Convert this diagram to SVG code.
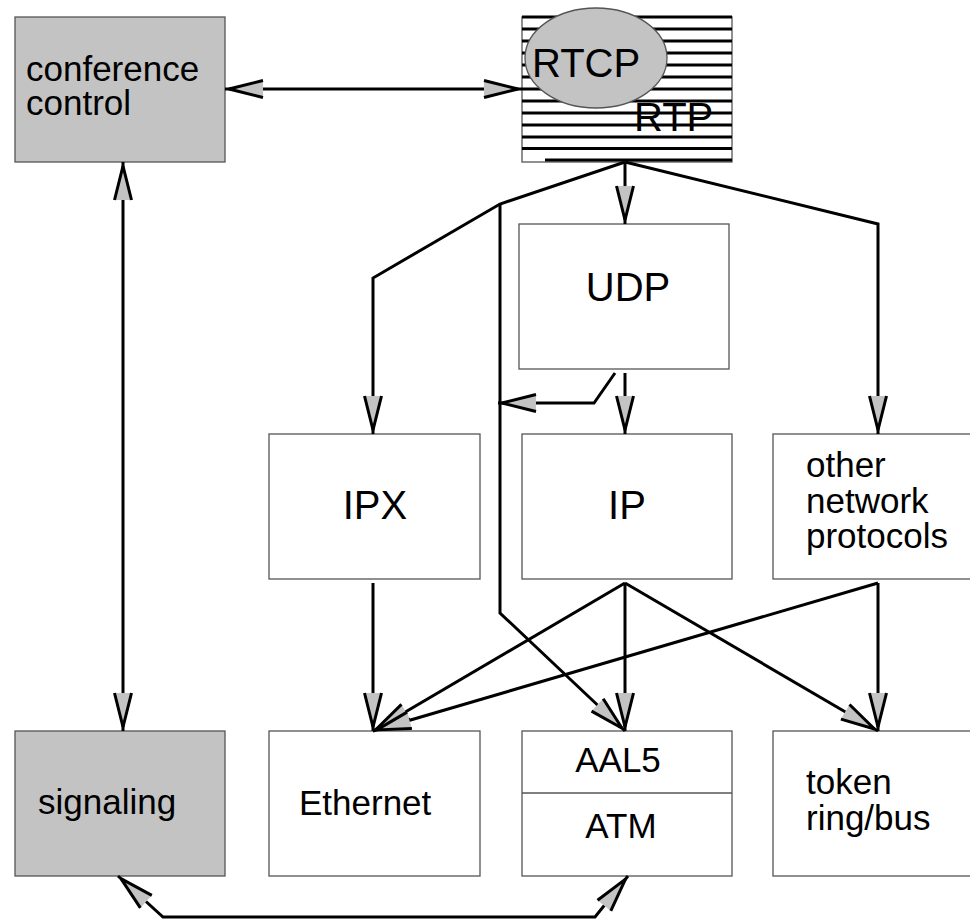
<svg xmlns="http://www.w3.org/2000/svg" width="970" height="919" viewBox="0 0 970 919">
  <style>
    .box { fill: #ffffff; stroke: #555555; stroke-width: 1.3; }
    .shaded { fill: #c3c3c3; stroke: #555555; stroke-width: 1.3; }
    .lbl { font-family: "Liberation Sans", Arial, Helvetica, sans-serif; font-size: 35px; fill: #000000; }
    .big { font-family: "Liberation Sans", Arial, Helvetica, sans-serif; font-size: 40px; fill: #000000; }
    .mid { text-anchor: middle; }
    .stripe { stroke: #000000; stroke-width: 3; }
    .conn path { fill: none; stroke: #000000; stroke-width: 3; stroke-linejoin: miter; }
    .one { marker-end: url(#ah); }
    .two { marker-start: url(#ah); marker-end: url(#ah); }
  </style>
  <defs>
    <!-- open-sided arrowhead: grey body, black flanks -->
    <marker id="ah" markerUnits="userSpaceOnUse" viewBox="-2 -2 44 22" markerWidth="44" markerHeight="22" refX="38" refY="9" orient="auto-start-reverse" overflow="visible">
      <path d="M0,0.5 L34,9 L0,17.5 Z" fill="#c3c3c3" stroke="none"/>
      <path d="M0,0.5 L34,9 L0,17.5" fill="none" stroke="#000000" stroke-width="3"/>
    </marker>
  </defs>

  <rect width="970" height="919" fill="#ffffff"/>

  <g id="conference-control">
    <rect class="shaded" x="15" y="17" width="210" height="145"/>
    <text class="lbl" x="26" y="81">conference</text>
    <text class="lbl" x="26" y="115">control</text>
  </g>

  <g id="rtp">
    <rect class="box" x="522" y="17" width="210" height="145"/>
    <g class="stripes">
      <line class="stripe" x1="522" y1="17" x2="732" y2="17"/>
      <line class="stripe" x1="522" y1="29" x2="732" y2="29"/>
      <line class="stripe" x1="522" y1="41" x2="732" y2="41"/>
      <line class="stripe" x1="522" y1="53" x2="732" y2="53"/>
      <line class="stripe" x1="522" y1="65" x2="732" y2="65"/>
      <line class="stripe" x1="522" y1="77" x2="732" y2="77"/>
      <line class="stripe" x1="522" y1="89" x2="732" y2="89"/>
      <line class="stripe" x1="522" y1="101" x2="732" y2="101"/>
      <line class="stripe" x1="522" y1="113" x2="732" y2="113"/>
      <line class="stripe" x1="522" y1="125" x2="732" y2="125"/>
      <line class="stripe" x1="522" y1="137" x2="732" y2="137"/>
      <line class="stripe" x1="522" y1="148.5" x2="732" y2="148.5"/>
      <line class="stripe" x1="545" y1="160" x2="732" y2="160"/>
    </g>
    <text class="big" x="634" y="131">RTP</text>
  </g>

  <g id="rtcp">
    <ellipse cx="596" cy="58" rx="71" ry="50" fill="#c3c3c3" stroke="#555555" stroke-width="1.3"/>
    <text class="big" x="532" y="77">RTCP</text>
  </g>

  <g id="udp">
    <rect class="box" x="519" y="224" width="210" height="145"/>
    <text class="big mid" x="628" y="301">UDP</text>
  </g>

  <g id="ipx">
    <rect class="box" x="269" y="434" width="211" height="145"/>
    <text class="big mid" x="375" y="519">IPX</text>
  </g>

  <g id="ip">
    <rect class="box" x="522" y="434" width="210" height="145"/>
    <text class="big mid" x="627" y="519">IP</text>
  </g>

  <g id="other-network-protocols">
    <rect class="box" x="773" y="434" width="210" height="145"/>
    <text class="lbl" x="806" y="477">other</text>
    <text class="lbl" x="806" y="513">network</text>
    <text class="lbl" x="806" y="548">protocols</text>
  </g>

  <g id="signaling">
    <rect class="shaded" x="15" y="731" width="210" height="145"/>
    <text class="lbl" x="38" y="814">signaling</text>
  </g>

  <g id="ethernet">
    <rect class="box" x="269" y="731" width="211" height="145"/>
    <text class="lbl" x="299" y="815">Ethernet</text>
  </g>

  <g id="aal5-atm">
    <rect class="box" x="522" y="731" width="210" height="145"/>
    <line x1="522" y1="793" x2="732" y2="793" stroke="#555555" stroke-width="1.3"/>
    <text class="lbl mid" x="618" y="772">AAL5</text>
    <text class="lbl mid" x="621" y="838">ATM</text>
  </g>

  <g id="token-ring-bus">
    <rect class="box" x="773" y="731" width="210" height="145"/>
    <text class="lbl" x="806" y="794">token</text>
    <text class="lbl" x="806" y="830">ring/bus</text>
  </g>

  <g id="connectors" class="conn">
    <path class="two" d="M225,89 L522,89"/>
    <path class="two" d="M123,162 L123,731"/>
    <path class="two" d="M118,876 L163,917 L595,917 L628,876"/>

    <path class="one" d="M625,162 L625,224"/>
    <path class="one" d="M625,162 L500,204 L373,278 L373,434"/>
    <path class="one" d="M500,204 L500,613 L625,731"/>
    <path class="one" d="M625,162 L878,224 L878,434"/>

    <path class="one" d="M625,373 L625,434"/>
    <path class="one" d="M615,373 L594,403 L498,403"/>

    <path class="one" d="M373,583 L373,731"/>
    <path class="one" d="M625,583 L373,731"/>
    <path class="one" d="M625,583 L625,731"/>
    <path class="one" d="M625,583 L878,731"/>
    <path class="one" d="M878,583 L373,731"/>
    <path class="one" d="M878,583 L878,731"/>
  </g>
</svg>
